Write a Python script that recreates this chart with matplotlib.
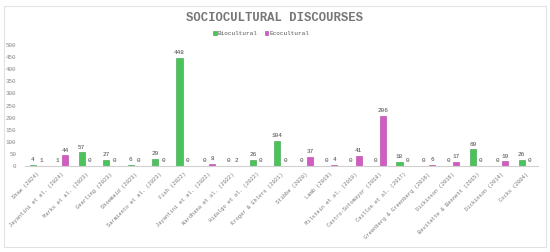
import numpy as np
import matplotlib
matplotlib.use("Agg")
import matplotlib.pyplot as plt
from matplotlib.patches import Rectangle

plt.rcParams['font.family'] = ['Liberation Mono', 'DejaVu Sans Mono']

# data
studies = ["Shaw (2024)", "Jayantini et al. (2024)", "Marks et al. (2023)", "Gearling (2023)",
           "Shoemaid (2023)", "Sarmiento et al. (2023)", "Fish (2022)", "Jayantini et al. (2022)",
           "Wardhana et al. (2022)", "Hidalgo et al. (2022)", "Krogar & Ehlers (2021)", "Stibbe (2020)",
           "Lamb (2019)", "Milstein et al. (2019)", "Castro-Sotomayor (2018)", "Caillon et al. (2017)",
           "Greenberg & Greenberg (2016)", "Dickinson (2016)", "Bevitatte & Bennett (2015)",
           "Dickinson (2014)", "Cocks (2004)"]
biocultural = [4, 1, 57, 27, 6, 29, 448, 0, 0, 26, 104, 0, 0, 0, 0, 18, 0, 0, 69, 0, 26]
ecocultural = [1, 44, 0, 0, 0, 0, 0, 8, 2, 0, 0, 37, 4, 41, 206, 0, 6, 17, 0, 19, 0]

green = "#4cc35a"
pink = "#d35bc4"

fig = plt.figure(figsize=(5.5, 2.52), dpi=100)
fig.patches.append(Rectangle((0.008, 0.02), 0.984, 0.955, transform=fig.transFigure,
                             fill=False, edgecolor="#e2e2e2", linewidth=0.8))
ax = fig.add_axes([0.045, 0.341, 0.933, 0.48])

x = np.arange(len(studies))
off = 0.165
w = 0.25
b1 = ax.bar(x - off, biocultural, w, color=green, edgecolor="#38a046", linewidth=0.4, label="Biocultural")
b2 = ax.bar(x + off, ecocultural, w, color=pink, edgecolor="#b0409f", linewidth=0.4, label="Ecocultural")

for bars in (b1, b2):
    for r in bars:
        h = r.get_height()
        ax.annotate(str(int(h)), (r.get_x() + r.get_width() / 2, h), xytext=(0, 2),
                    textcoords="offset points", ha="center", va="bottom", fontsize=4.3, color="#444")

ax.set_xlim(-0.5, len(studies) - 0.5)
ax.set_ylim(0, 500)
ax.set_yticks(range(0, 501, 50))
ax.set_xticks(x)
ax.set_xticklabels(studies, rotation=45, ha="right", rotation_mode="anchor", fontsize=3.9, color="#777")
ax.tick_params(axis="y", labelsize=4.2, labelcolor="#888", length=0, pad=6)
ax.tick_params(axis="x", length=0, pad=4)
for s in ["top", "right", "left"]:
    ax.spines[s].set_visible(False)
ax.spines["bottom"].set_color("#d0d0d0")
ax.spines["bottom"].set_linewidth(0.8)

fig.text(0.5, 0.93, "SOCIOCULTURAL DISCOURSES", ha="center", va="center",
         fontsize=8.8, fontweight="bold", color="#777")
fig.legend(loc="center", bbox_to_anchor=(0.475, 0.868), ncol=2, frameon=False, fontsize=4.3,
           handlelength=0.6, handleheight=0.6, handletextpad=0.2, columnspacing=1.2,
           labelcolor="#555")

fig.savefig("out.png", dpi=100)
